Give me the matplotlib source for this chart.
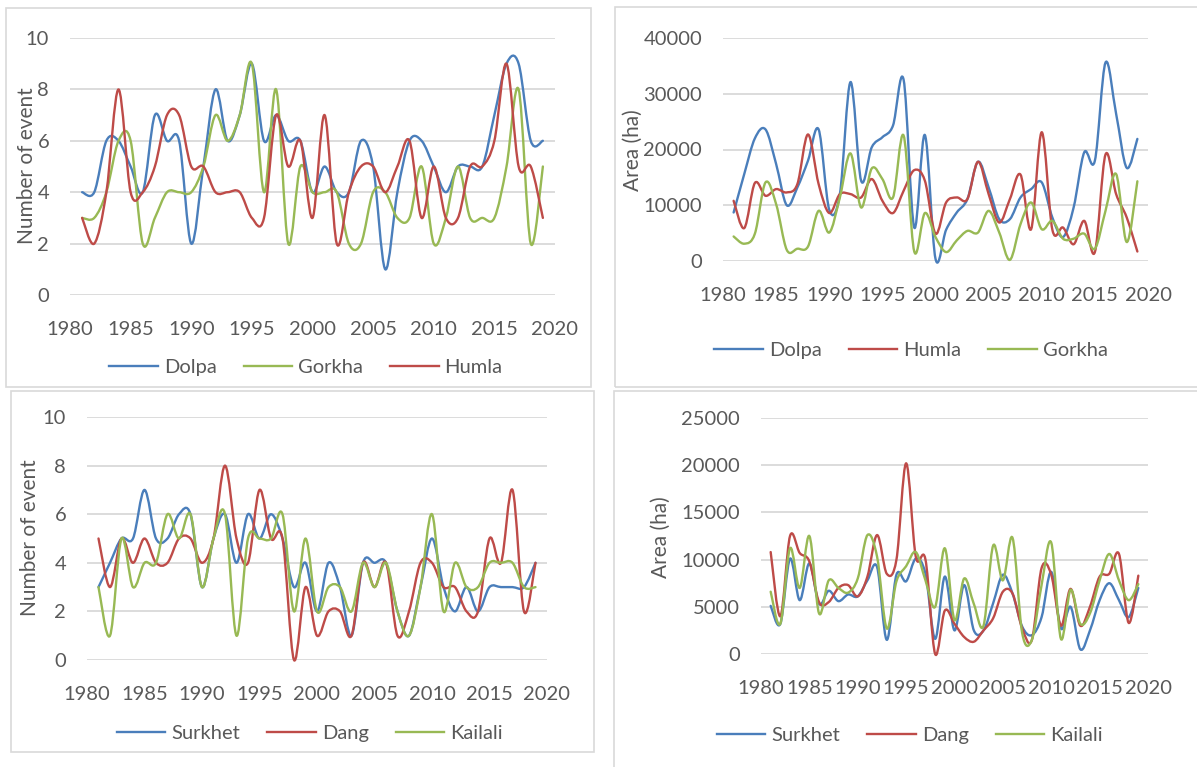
import numpy as np
import matplotlib
matplotlib.use("Agg")
import matplotlib.pyplot as plt
from matplotlib.path import Path
from matplotlib.patches import PathPatch, Rectangle
from matplotlib.lines import Line2D

plt.rcParams['font.family'] = ['Lato', 'DejaVu Sans']

years = list(range(1981, 2020))

# Panel 1: number of events
dolpa_n = [4, 4, 6, 6, 5, 4, 7, 6, 6, 2, 5, 8, 6, 7, 9, 6, 7, 6, 6, 4, 5, 4, 4, 6, 5, 1, 4, 6, 6, 5, 4, 5, 5, 5, 7, 9, 9, 6, 6]
gorkha_n = [3, 3, 4, 6, 6, 2, 3, 4, 4, 4, 5, 7, 6, 7, 9, 4, 8, 2, 5, 4, 4, 4, 2, 2, 4, 4, 3, 3, 5, 2, 3, 5, 3, 3, 3, 5, 8, 2, 5]
humla_n = [3, 2, 4, 8, 4, 4, 5, 7, 7, 5, 5, 4, 4, 4, 3, 3, 7, 5, 6, 3, 7, 2, 4, 5, 5, 4, 5, 6, 3, 5, 3, 3, 5, 5, 6, 9, 5, 5, 3]

# Panel 2: area (ha)
dolpa_a = [8700, 15600, 22000, 23600, 17400, 10000, 13200, 18000, 23600, 9200, 12000, 32100, 14400, 20400, 22200, 24300,
           32500, 6000, 22600, 400, 5600, 8700, 11100, 17800, 13200, 7500, 7500, 11400, 12900, 14100, 7800, 4300, 9600,
           19500, 18000, 35600, 26400, 16700, 21900]
humla_a = [10800, 5900, 14000, 11700, 12900, 12300, 13800, 22700, 13800, 8600, 12000, 12000, 11400, 14700, 10800, 8600,
           12600, 16300, 14400, 4900, 10500, 11400, 11100, 17800, 12000, 6900, 11100, 15500, 5700, 23100, 5600, 6000, 3000,
           7200, 1600, 19100, 12000, 7800, 1700]
gorkha_a = [4400, 3100, 4900, 14100, 10200, 2000, 2200, 2600, 9000, 5100, 11400, 19300, 9600, 16600, 14700, 11400,
            22500, 1700, 8600, 4300, 1600, 3700, 5400, 5100, 9000, 5100, 200, 6600, 10500, 5700, 7200, 4000, 4000,
            4900, 2200, 9000, 15600, 3400, 14300]

# Panel 3: number of events
surkhet_n = [3, 4, 5, 5, 7, 5, 5, 6, 6, 3, 5, 6, 4, 6, 5, 6, 5, 3, 4, 2, 4, 3, 1, 4, 4, 4, 2, 1, 3, 5, 3, 2, 3, 2, 3, 3, 3, 3, 4]
dang_n = [5, 3, 5, 4, 5, 4, 4, 5, 5, 4, 5, 8, 5, 4, 7, 5, 5, 0, 3, 1, 2, 2, 1, 4, 3, 4, 1, 2, 4, 4, 3, 3, 2, 2, 5, 4, 7, 2, 4]
kailali_n = [3, 1, 5, 3, 4, 4, 6, 5, 6, 3, 5, 6, 1, 5, 5, 5, 6, 2, 5, 2, 3, 3, 2, 4, 3, 4, 2, 1, 3, 6, 2, 4, 3, 3, 4, 4, 4, 3, 3]

# Panel 4: area (ha)
surkhet_a = [5100, 3200, 10100, 5700, 9600, 5300, 6700, 5600, 6300, 6100, 7800, 9200, 1500, 8400, 7700, 10100, 8500,
             1600, 8200, 2500, 7300, 2500, 2500, 5400, 8400, 6400, 2900, 2000, 3900, 8700, 2700, 5000, 500, 2500,
             5700, 7500, 5700, 3900, 7000]
dang_a = [10800, 4000, 12500, 10700, 9800, 5500, 5500, 7000, 7300, 6100, 8200, 12600, 8500, 10000, 20200, 10300, 10000,
          0, 4600, 3200, 1800, 1300, 2500, 3800, 6600, 6400, 2700, 1500, 9100, 8400, 3000, 6900, 3000, 5000, 8200,
          8500, 10600, 3300, 8300]
kailali_a = [6600, 3200, 11200, 7000, 12500, 4300, 7800, 7000, 6500, 8000, 12600, 10300, 2700, 7700, 9300, 10800, 7800,
             5000, 11200, 3600, 8000, 5300, 3000, 11500, 7800, 12300, 2200, 1500, 7300, 11800, 1600, 6800, 3200, 4300,
             7800, 10600, 7800, 5700, 7400]

BLUE = '#4A7EBB'
RED = '#BE4B48'
GREEN = '#98B954'
TXT = '#595959'
GRID = '#D9D9D9'

W, H = 1197, 767
fig = plt.figure(figsize=(W / 100, H / 100), dpi=100)


def px_axes(x0, y0, x1, y1):
    return fig.add_axes([x0 / W, 1 - y1 / H, (x1 - x0) / W, (y1 - y0) / H])


def smooth_path(x, y):
    x = np.asarray(x, float)
    y = np.asarray(y, float)
    n = len(x)
    verts = [(x[0], y[0])]
    codes = [Path.MOVETO]
    for i in range(n - 1):
        p0 = np.array([x[max(i - 1, 0)], y[max(i - 1, 0)]])
        p1 = np.array([x[i], y[i]])
        p2 = np.array([x[i + 1], y[i + 1]])
        p3 = np.array([x[min(i + 2, n - 1)], y[min(i + 2, n - 1)]])
        c1 = p1 + (p2 - p0) / 6.0
        c2 = p2 - (p3 - p1) / 6.0
        verts += [tuple(c1), tuple(c2), tuple(p2)]
        codes += [Path.CURVE4] * 3
    return Path(verts, codes)


def panel(box, series, ymax, ystep, ylabel, ylabel_xy, legend_xy):
    ax = px_axes(*box)
    ax.set_xlim(1980, 2020)
    ax.set_ylim(0, ymax)
    ax.set_xticks(range(1980, 2021, 5))
    ax.set_yticks(np.arange(0, ymax + 1, ystep))
    ax.grid(axis='y', color=GRID, lw=1.3)
    ax.set_axisbelow(True)
    for s in ax.spines.values():
        s.set_visible(False)
    ax.tick_params(length=0, labelsize=14.5, labelcolor=TXT)
    ax.tick_params(axis='x', pad=19)
    ax.tick_params(axis='y', pad=15)
    handles = []
    for name, vals, col in series:
        patch = PathPatch(smooth_path(years, vals), fill=False, edgecolor=col, lw=1.7,
                          clip_on=False, joinstyle='round', capstyle='round')
        ax.add_patch(patch)
        handles.append(Line2D([0], [0], color=col, lw=1.7, label=name))
    fig.text(ylabel_xy[0] / W, 1 - ylabel_xy[1] / H, ylabel, rotation=90, ha='center', va='center',
             fontsize=15, color=TXT)
    leg = fig.legend(handles=handles, loc='center', ncol=3, frameon=False,
                     bbox_to_anchor=(legend_xy[0] / W, 1 - legend_xy[1] / H),
                     fontsize=14.5, handlelength=2.4, handletextpad=0.3, columnspacing=1.35)
    for t in leg.get_texts():
        t.set_color(TXT)
    return ax


# panel borders
for (x0, y0, x1, y1) in [(6, 8, 591, 387), (615, 7, 1205, 387), (11, 391, 594, 752), (614, 391, 1205, 775)]:
    fig.add_artist(Rectangle((x0 / W, 1 - y1 / H), (x1 - x0) / W, (y1 - y0) / H, transform=fig.transFigure,
                             fill=False, edgecolor=GRID, lw=1.2))

panel((70, 38, 555, 295),
      [('Dolpa', dolpa_n, BLUE), ('Gorkha', gorkha_n, GREEN), ('Humla', humla_n, RED)],
      10, 2, 'Number of event', (27, 166), (306, 367))
panel((723, 38, 1148, 261),
      [('Dolpa', dolpa_a, BLUE), ('Humla', humla_a, RED), ('Gorkha', gorkha_a, GREEN)],
      40000, 10000, 'Area (ha)', (633, 150), (911, 350))
panel((87, 417, 547, 660),
      [('Surkhet', surkhet_n, BLUE), ('Dang', dang_n, RED), ('Kailali', kailali_n, GREEN)],
      10, 2, 'Number of event', (30, 538), (310, 733))
panel((761, 418, 1148, 654),
      [('Surkhet', surkhet_a, BLUE), ('Dang', dang_a, RED), ('Kailali', kailali_a, GREEN)],
      25000, 5000, 'Area (ha)', (661, 537), (910, 735))

fig.savefig('out.png', dpi=100)
